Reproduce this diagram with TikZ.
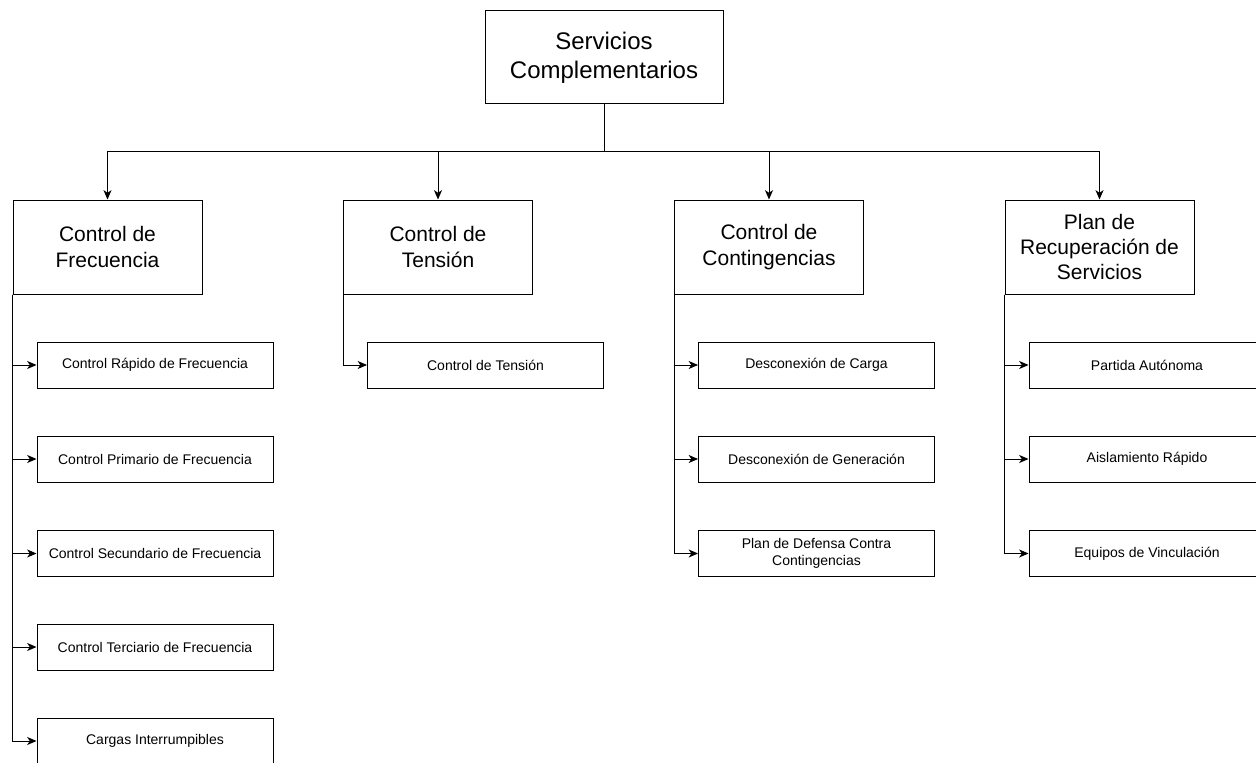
\documentclass[tikz,border=0pt]{standalone}
\usepackage{fontspec}
\setmainfont{Liberation Sans}
\usetikzlibrary{arrows.meta}
\begin{document}
\begin{tikzpicture}[x=0.75pt,y=-0.75pt, line width=0.75pt,
  topbox/.style={draw, align=center, inner sep=0pt, minimum width=178.5pt, minimum height=69.75pt, font=\fontsize{18pt}{21.6pt}\selectfont},
  midbox/.style={draw, align=center, inner sep=0pt, minimum width=141.75pt, minimum height=70.5pt, font=\fontsize{15.75pt}{18.9pt}\selectfont},
  leafbox/.style={draw, align=center, inner sep=0pt, minimum width=177pt, minimum height=34.5pt, font=\fontsize{10.5pt}{12.6pt}\selectfont},
  arr/.style={-{Stealth[length=7pt,width=6pt,inset=2pt]}}]
\useasboundingbox (0,0) rectangle (1256,763);
\clip (0,0) rectangle (1256,763);
\node[topbox] (top) at (604,57.5) {Servicios\\Complementarios};
\node[midbox] (f) at (107.5,247) {Control de\\Frecuencia};
\node[midbox] (t) at (438,247) {Control de\\Tensión};
\node[midbox] (c) at (769,247) {Control de\\Contingencias};
\node[midbox] (p) at (1099.5,247) {Plan de\\Recuperación de\\Servicios};
\coordinate (bus) at (0,152);
\foreach \n in {f,t,c,p}{
  \draw[arr] (top.south) |- (bus -| \n.north) -- (\n.north);
}
% Frecuencia children
\node[leafbox] (f1) at (155,365) {Control Rápido de Frecuencia};
\node[leafbox] (f2) at (155,459) {Control Primario de Frecuencia};
\node[leafbox] (f3) at (155,553.5) {Control Secundario de Frecuencia};
\node[leafbox] (f4) at (155,647) {Control Terciario de Frecuencia};
\node[leafbox] (f5) at (155,741) {Cargas Interrumpibles};
\foreach \k in {f1,f2,f3,f4,f5}{ \draw[arr] (f.south west) |- (\k.west); }
% Tension
\node[leafbox] (t1) at (485.5,365) {Control de Tensión};
\draw[arr] (t.south west) |- (t1.west);
% Contingencias
\node[leafbox] (c1) at (816.5,365) {Desconexión de Carga};
\node[leafbox] (c2) at (816.5,459) {Desconexión de Generación};
\node[leafbox] (c3) at (816.5,553.5) {Plan de Defensa Contra\\Contingencias};
\foreach \k in {c1,c2,c3}{ \draw[arr] (c.south west) |- (\k.west); }
% Plan
\node[leafbox] (p1) at (1147,365) {Partida Autónoma};
\node[leafbox] (p2) at (1147,459) {Aislamiento Rápido};
\node[leafbox] (p3) at (1147,553.5) {Equipos de Vinculación};
\foreach \k in {p1,p2,p3}{ \draw[arr] (p.south west) |- (\k.west); }
\end{tikzpicture}
\end{document}
